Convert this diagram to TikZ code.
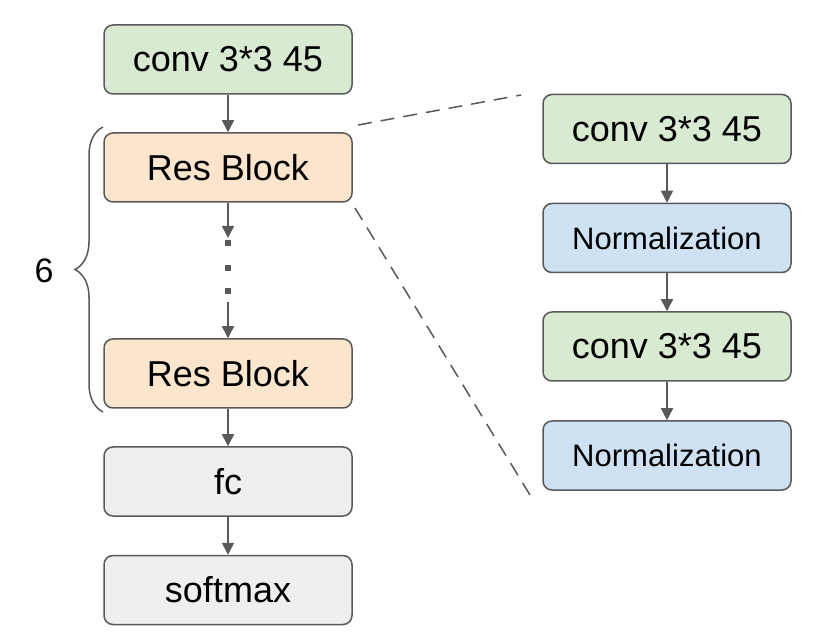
\documentclass[tikz,border=0pt]{standalone}
\usepackage{fontspec}
\setmainfont{Liberation Sans}
\usetikzlibrary{arrows.meta,decorations.pathreplacing}
\definecolor{edge}{HTML}{595959}
\definecolor{gfill}{HTML}{D9EAD3}
\definecolor{ofill}{HTML}{FCE5CD}
\definecolor{bfill}{HTML}{CFE2F3}
\definecolor{kfill}{HTML}{EFEFEF}
\tikzset{
  blk/.style={draw=edge, line width=1.5pt, rounded corners=9pt, minimum width=248pt, minimum height=69pt, inner sep=0pt, font=\fontsize{36}{40}\selectfont},
  nrm/.style={blk, font=\fontsize{31}{35}\selectfont},
  arr/.style={draw=edge, line width=1.5pt, -{Triangle[length=12pt,width=12pt]}},
  dsh/.style={draw=edge, line width=1.5pt, dash pattern=on 14pt off 9pt},
}
\begin{document}
\begin{tikzpicture}[x=1pt,y=-1pt]
\useasboundingbox (0,0) rectangle (828,644);
\node[blk, fill=gfill] (c0) at (228,59.5) {conv 3*3 45};
\node[blk, fill=ofill] (r1) at (228,167.5) {Res Block};
\node[blk, fill=ofill] (r2) at (228,373.5) {Res Block};
\node[blk, fill=kfill] (fc) at (228,481.5) {fc};
\node[blk, fill=kfill] (sm) at (228,590) {softmax};
\node[blk, fill=gfill] (rc1) at (667,129) {conv 3*3 45};
\node[nrm, fill=bfill] (rn1) at (667,238) {Normalization};
\node[blk, fill=gfill] (rc2) at (667,346.5) {conv 3*3 45};
\node[nrm, fill=bfill] (rn2) at (667,455.5) {Normalization};
\coordinate (d1) at (228,238);
\coordinate (d2) at (228,302);
\draw[arr] (c0) -- (r1);
\draw[arr] (r1) -- (d1);
\draw[arr] (d2) -- (r2);
\foreach \yy in {243,268,291} \fill[edge] (225,\yy-3) rectangle (231,\yy+3);
\draw[arr] (r2) -- (fc);
\draw[arr] (fc) -- (sm);
\draw[arr] (rc1) -- (rn1);
\draw[arr] (rn1) -- (rc2);
\draw[arr] (rc2) -- (rn2);
\coordinate (z1) at (358,125);
\coordinate (z2) at (521,95);
\coordinate (z3) at (355,208);
\coordinate (z4) at (530,495);
\draw[dsh] (z1) -- (z2);
\draw[dsh] (z3) -- (z4);
\coordinate (b1) at (103,412);
\coordinate (b2) at (103,127);
\draw[edge, line width=1.5pt, decorate, decoration={brace, amplitude=28pt}] (b1) -- (b2);
\node[font=\fontsize{34}{38}\selectfont] (six) at (44,271) {6};
\end{tikzpicture}
\end{document}
